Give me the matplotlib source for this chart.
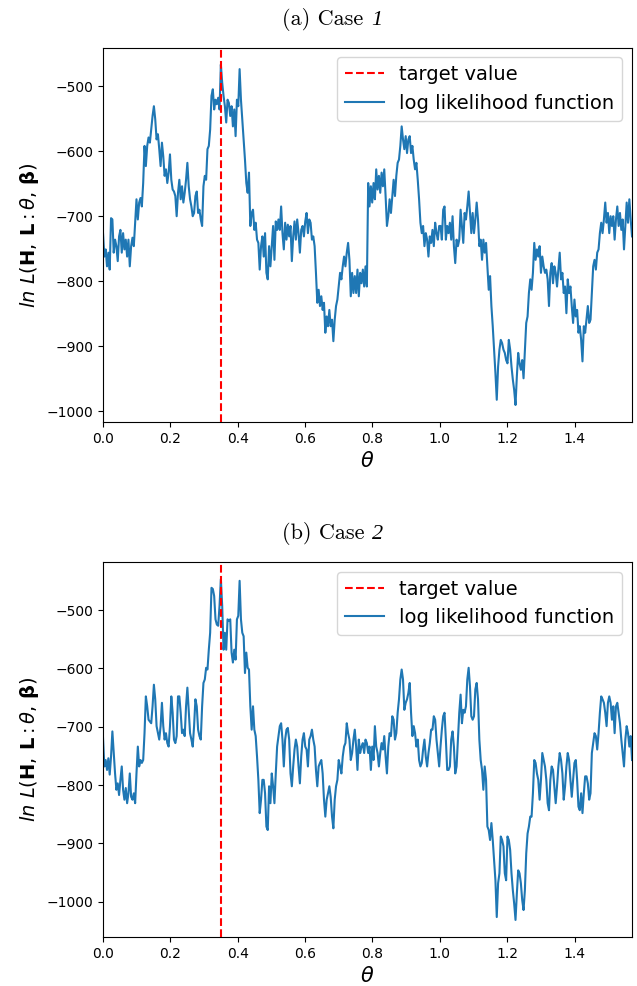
import numpy as np
import matplotlib.pyplot as plt

target_theta = 0.35

# log likelihood sampled over theta in [0, pi/2]
loglik_case1 = [
    -726, -762, -751, -777, -756, -782, -703, -705, -756, -736,
    -746, -769, -731, -721, -756, -726, -751, -736, -762, -736,
    -777, -746, -733, -746, -710, -674, -705, -679, -672, -685,
    -649, -592, -623, -592, -579, -587, -567, -546, -531, -551,
    -582, -574, -597, -623, -587, -608, -638, -628, -649, -633,
    -605, -644, -659, -662, -669, -700, -664, -644, -674, -654,
    -679, -664, -644, -618, -654, -674, -685, -700, -695, -669,
    -662, -695, -690, -705, -715, -654, -638, -644, -597, -592,
    -567, -515, -505, -536, -521, -528, -518, -536, -467, -495,
    -515, -531, -556, -521, -526, -546, -531, -562, -536, -577,
    -521, -531, -474, -521, -551, -582, -613, -649, -664, -633,
    -715, -695, -690, -721, -710, -736, -741, -782, -746, -731,
    -762, -726, -787, -797,
    -746, -777, -746, -715, -767, -708, -721, -705, -721, -685,
    -726, -751, -710, -736, -713, -731, -715, -769, -731, -708,
    -736, -705, -726, -756, -721, -715, -731, -708, -695, -726,
    -705, -710, -736, -731, -746, -787, -833, -813, -838, -823,
    -844, -833, -879, -854, -869, -844, -869, -859, -892, -859,
    -838, -828, -808, -787, -797, -777, -762, -777, -756, -741,
    -767, -823, -787, -818, -792, -818, -782, -823, -787, -803,
    -782, -808, -777, -808,
    -649, -685, -654, -679, -649, -674, -628, -659, -638, -664,
    -633, -654, -628, -669, -715, -700, -674, -695, -669, -644,
    -669, -638, -618, -613, -592, -562, -582, -597, -577, -603,
    -582, -577, -603, -592, -613, -628, -618, -644, -674, -710,
    -726, -715, -746, -726, -736, -762, -731, -741, -721, -746,
    -710, -726, -736, -715,
    -715, -736, -690, -685, -736, -715, -726, -710, -736, -700,
    -746, -772, -736, -746, -736, -690, -715, -741, -695, -705,
    -685, -662, -695, -726, -695, -726, -705, -679, -705, -746,
    -736, -767, -736, -756, -741, -777, -813, -792, -838, -869,
    -905, -941, -982, -931, -905, -890, -895, -905, -910, -921,
    -926, -890, -905, -931, -951, -967, -990, -946, -910, -926,
    -936, -921, -949, -905, -864, -854, -818, -797, -813, -787,
    -741, -767, -751, -762, -746, -787, -762, -777, -787, -782,
    -797, -838, -787, -772, -803, -777, -787, -808, -782, -756,
    -797, -787, -818, -808, -849, -797, -818, -808, -838, -864,
    -828, -854, -844, -879, -869, -890, -923, -869, -879, -859,
    -838, -864, -859, -818, -777, -767, -782, -756, -751, -726,
    -710, -726, -705, -679, -710, -695, -726, -700, -715, -700,
    -736, -705, -685, -715, -695, -721, -705, -751, -715, -679,
    -710, -674, -705, -731,
]

loglik_case2 = [
    -719, -768, -757, -774, -754, -782, -751, -708, -745, -780,
    -808, -797, -817, -791, -768, -808, -825, -805, -831, -814,
    -780, -820, -825, -814, -831, -780, -734, -768, -757, -762,
    -757, -711, -648, -665, -688, -691, -694, -665, -628, -653,
    -699, -711, -722, -699, -659, -699, -722, -711, -728, -734,
    -699, -648, -676, -722, -728, -716, -648, -648, -676, -711,
    -705, -716, -665, -633, -671, -711, -722, -734, -699, -653,
    -665, -705, -716, -722, -665, -625, -619, -599, -602, -568,
    -539, -462, -464, -476, -516, -525, -527, -493, -447, -493,
    -568, -539, -568, -516, -519, -516, -573, -590, -568, -585,
    -516, -510, -450, -516, -539, -545, -608, -573, -599, -602,
    -665, -705, -665, -705, -716, -751, -791, -848, -825, -791,
    -791, -814, -871, -877,
    -802, -831, -780, -802, -831, -780, -734, -716, -699, -694,
    -722, -768, -722, -705, -702, -722, -780, -802, -768, -739,
    -722, -734, -768, -797, -751, -722, -711, -734, -739, -768,
    -722, -716, -705, -722, -734, -774, -802, -768, -762, -757,
    -780, -825, -854, -825, -814, -802, -820, -854, -874, -825,
    -802, -791, -757, -768, -780, -751, -734, -728, -694, -711,
    -722, -757, -745, -722, -705, -734, -774, -722, -745, -734,
    -728, -745, -722, -728, -745, -734, -774, -734, -757, -699,
    -734, -745, -768, -745, -728, -739, -716, -751, -780, -734,
    -711, -716, -682, -688, -722, -711, -676, -653, -619, -602,
    -619, -671, -659, -653, -642, -625, -676, -716, -699, -711,
    -734, -722, -757, -768, -762, -739, -722, -751, -768, -745,
    -728, -705, -705, -682, -688, -722, -745, -768,
    -734, -705, -682, -676, -722, -774, -774, -768, -722, -708,
    -734, -780, -768, -722, -676, -645, -694, -671, -676, -665,
    -619, -599, -631, -682, -688, -682, -636, -625, -653, -722,
    -757, -774, -808, -768, -791, -871, -877, -894, -865, -894,
    -928, -963, -1026, -968, -951, -888, -894, -905, -951, -963,
    -888, -894, -911, -951, -980, -1003, -1031, -986, -946, -951,
    -968, -997, -1014, -980, -917, -883, -871, -854, -854, -814,
    -757, -762, -780, -791, -825, -791, -745, -757, -768, -791,
    -831, -843, -791, -768, -774, -802, -831, -802, -768, -745,
    -757, -780, -825, -802, -768, -745, -757, -791, -820, -791,
    -762, -757, -791, -837, -843, -814, -848, -814, -785, -785,
    -797, -825, -814, -745, -728, -711, -716, -739, -711, -676,
    -648, -653, -659, -676, -699, -659, -648, -659, -688, -665,
    -711, -665, -659, -676, -694, -722, -745, -768, -722, -699,
    -711, -734, -716, -757,
]

cap_prefix = ['(a) Case', '(b) Case']
cap_num = ['1', '2']
ylab = r'$ln\ L(\mathbf{H},\,\mathbf{L}:\theta,\,\mathbf{\beta})$'

fig = plt.figure(figsize=(6.37, 9.86), dpi=100)
ax1 = fig.add_axes([0.1617, 0.5720, 0.8305, 0.3798])
ax2 = fig.add_axes([0.1617, 0.0497, 0.8305, 0.3803])

for ax, vals, pre, num, ytxt in zip([ax1, ax2], [loglik_case1, loglik_case2],
                                    cap_prefix, cap_num, [0.9745, 0.4535]):
    theta = np.linspace(0, np.pi / 2, len(vals))
    ax.axvline(target_theta, color='r', ls='--', label='target value', zorder=3)
    ax.plot(theta, vals, color='tab:blue', label='log likelihood function')
    ax.set_xlim(0, np.pi / 2)
    ax.set_xlabel(r'$\theta$', fontsize=15)
    ax.set_ylabel(ylab, fontsize=14)
    ax.tick_params(labelsize=10)
    ax.legend(loc='upper right', fontsize=14)

    # caption: roman text followed by an italic case number
    t = fig.text(0.442, ytxt, pre, family='cmr10', fontsize=16, ha='left', va='baseline')
    fig.canvas.draw()
    x_num = t.get_window_extent().x1 / fig.bbox.width + 0.013
    fig.text(x_num, ytxt, num, family='Liberation Serif', style='italic',
             fontsize=16, ha='left', va='baseline')

plt.savefig('out.png')
